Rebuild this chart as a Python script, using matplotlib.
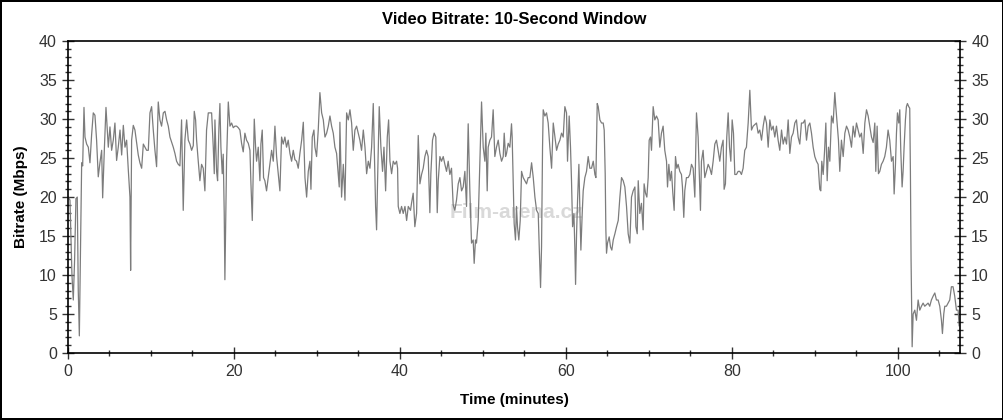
import matplotlib
matplotlib.use("Agg")
import matplotlib.pyplot as plt
from matplotlib.ticker import MultipleLocator

plt.rcParams['font.family'] = ['Liberation Sans', 'DejaVu Sans']

# bitrate (Mbps), per stretch of the film (minutes)
t_a = [0.05, 0.24, 0.48, 0.64, 0.80, 0.96, 1.12, 1.24, 1.37, 1.53, 1.65, 1.77, 1.93, 2.05, 2.25,
       2.45, 2.65, 2.85, 3.05, 3.25, 3.45, 3.65, 3.85, 4.06, 4.18, 4.38, 4.58, 4.86, 5.06, 5.26,
       5.46, 5.66, 5.86, 6.06, 6.27, 6.47, 6.67, 6.87, 7.07, 7.27, 7.47, 7.55, 7.67, 7.87, 8.07,
       8.27, 8.47, 8.67, 8.88, 9.08, 9.28, 9.48, 9.68, 9.88, 10.08, 10.28, 10.48, 10.68, 10.88, 11.08,
       11.28, 11.49, 11.69, 11.89, 12.09, 12.29, 12.69, 12.89, 13.09, 13.29]
v_a = [20, 19.6, 10, 6.8, 12, 19.8, 20, 8, 2.2, 15, 24.4, 24, 31.5, 27.7, 26.8,
       26.4, 24.4, 28, 30.8, 30.5, 27.3, 22.6, 24.4, 26, 19.9, 26, 31.5, 26.4, 29, 26,
       27.3, 29.5, 24.7, 26.4, 28.6, 25.4, 29.2, 26.4, 27.3, 23.5, 20, 10.6, 27.3, 29.2, 28.6,
       27, 25.4, 24.4, 23.7, 26.8, 26.4, 26, 26, 30.8, 31.6, 28.6, 26, 23.9, 32.2, 29.9,
       29.1, 30.8, 31, 29.9, 29.1, 27.7, 26.4, 25.6, 24.6, 24.2]

t_b = [13.49, 13.69, 13.89, 14.09, 14.30, 14.50, 14.70, 14.90, 15.10, 15.22, 15.38, 15.50, 15.70, 15.90, 16.10,
       16.30, 16.50, 16.70, 16.91, 17.11, 17.31, 17.51, 17.63, 17.71, 17.91, 18.03, 18.19, 18.31, 18.43, 18.59,
       18.71, 18.83, 18.91, 19.11, 19.32, 19.52, 19.72, 19.92, 20.12, 20.32, 20.52, 20.72, 20.92, 21.12, 21.32,
       21.52, 21.73, 21.93, 22.05, 22.21, 22.45, 22.61, 22.73, 22.93, 23.13, 23.25, 23.41, 23.57, 23.73, 23.93,
       24.13, 24.34, 24.54, 24.74, 24.94, 25.14, 25.34, 25.54, 25.74, 25.94, 26.14, 26.34, 26.54, 26.75, 26.95,
       27.15]
v_b = [24, 29.9, 18.3, 27.3, 29.9, 27.3, 26.8, 26, 26.6, 31, 29.9, 27.3, 24.6, 22.1, 24.2,
       23.7, 20.8, 28.6, 30.8, 30.8, 30.8, 26.4, 23, 29.9, 23.3, 22.1, 28.9, 32, 26.4, 23,
       25.5, 17.9, 9.4, 24.6, 32.2, 29.1, 29.5, 28.9, 29.1, 29.1, 28.9, 28.6, 26.9, 25.8, 28.2,
       27.3, 26.9, 26, 21.7, 17, 30, 26.4, 24.6, 26.4, 22.1, 26.8, 28.6, 22.5, 22.1, 20.8,
       22.5, 24.2, 26, 24.6, 29.1, 25.2, 23, 20.8, 27.7, 26.8, 27.7, 26.4, 27.3, 25.6, 24.6,
       26]

t_c = [27.35, 27.55, 27.75, 27.95, 28.16, 28.36, 28.56, 28.76, 28.96, 29.16, 29.28, 29.44, 29.64, 29.76, 29.96,
       30.16, 30.36, 30.57, 30.77, 30.97, 31.17, 31.37, 31.57, 31.77, 31.97, 32.17, 32.37, 32.57, 32.69, 32.77,
       32.97, 33.18, 33.38, 33.58, 33.78, 33.98, 34.18, 34.38, 34.58, 34.78, 34.98, 35.18, 35.38, 35.59, 35.79,
       35.99, 36.19, 36.39, 36.59, 36.79, 36.91, 37.07, 37.19, 37.31, 37.51, 37.71, 37.91, 38.08, 38.28, 38.48,
       38.64, 38.80, 39.00, 39.20, 39.40, 39.60, 39.72, 39.80, 40.00, 40.20, 40.40, 40.61, 40.81, 41.01]
v_c = [24.8, 24.6, 23.7, 25.6, 27.3, 29.6, 22.5, 20, 23.3, 24.6, 21, 27.7, 28.6, 26.4, 25.2,
       28.6, 33.4, 30.8, 29.9, 27.7, 28.2, 29.1, 30.4, 29.1, 28.2, 26.4, 25.6, 23, 21.3, 29.6,
       20, 24.2, 19.6, 30.8, 29.9, 31.2, 29.5, 26, 28.6, 29.1, 28.2, 27.3, 26, 28.6, 26.4,
       23, 24.6, 23.7, 26.4, 32, 26.4, 18.8, 15.8, 22.1, 31.6, 26.4, 23.3, 26.4, 20.8, 27.7,
       29.9, 24.6, 23, 24.6, 24.2, 24.6, 23.7, 18.8, 17.9, 18.8, 17.9, 18.8, 17, 18.8]

t_d = [41.28, 41.40, 41.60, 41.80, 42.01, 42.21, 42.41, 42.61, 42.81, 43.01, 43.21, 43.41, 43.61, 43.73, 43.93,
       44.13, 44.33, 44.50, 44.62, 44.82, 45.02, 45.22, 45.42, 45.62, 45.82, 46.02, 46.22, 46.42, 46.62, 46.82,
       47.03, 47.23, 47.43, 47.63, 47.83, 48.03, 48.23, 48.43, 48.63, 48.83, 48.95, 49.11, 49.23, 49.44, 49.64,
       49.84, 50.04, 50.24, 50.36, 50.52, 50.64, 50.84, 51.04, 51.24, 51.44, 51.64, 51.85, 52.05, 52.25, 52.45,
       52.57, 52.73, 52.85, 53.05, 53.25, 53.45, 53.53, 53.65, 53.77, 53.93, 54.05, 54.17, 54.33, 54.50, 54.66,
       54.86]
v_d = [18.3, 19.2, 20.5, 16.2, 17.9, 27.9, 21.7, 22.9, 23.7, 25.2, 26, 25.2, 18, 23, 27.3,
       28.2, 27.7, 18, 22.1, 25.2, 24.6, 25.2, 24.2, 23.3, 24.6, 22.9, 23.7, 19, 18.3, 19.6,
       21.7, 22.5, 20.8, 21.3, 23.3, 18.8, 29.4, 20.8, 14.1, 14.5, 11.5, 14.5, 14.1, 17, 24.6,
       32.2, 26.4, 24.6, 28.2, 20.8, 26.4, 27.3, 27.7, 31.2, 25.2, 26.4, 27.3, 25.6, 24.6, 25.2,
       28.2, 25.2, 25.6, 26.9, 26.4, 29.4, 27.7, 22.1, 16.6, 14.5, 18.8, 16.2, 14.5, 17, 23.3,
       22.5]

t_e = [55.06, 55.26, 55.46, 55.66, 55.87, 56.07, 56.27, 56.47, 56.67, 56.79, 56.95, 57.07, 57.19, 57.27, 57.47,
       57.67, 57.87, 58.07, 58.28, 58.48, 58.68, 58.88, 59.08, 59.28, 59.48, 59.68, 59.88, 60.08, 60.20, 60.40,
       60.56, 60.68, 60.81, 60.97, 61.09, 61.17, 61.29, 61.41, 61.57, 61.69, 61.81, 61.97, 62.09, 62.29, 62.49,
       62.69, 62.89, 63.09, 63.30, 63.50, 63.62, 63.78, 63.90, 64.10, 64.30, 64.50, 64.62, 64.74, 64.82, 64.90,
       65.02, 65.22, 65.38, 65.54, 65.71, 65.91, 66.11, 66.31, 66.51, 66.71, 66.91, 67.11, 67.31, 67.51, 67.71,
       67.91, 68.11, 68.32, 68.44, 68.60, 68.72]
v_e = [22.1, 21.7, 22.5, 22.5, 24.4, 22.5, 20, 18.3, 17.9, 13.6, 8.4, 13.6, 26.4, 31.2, 30.4,
       30.8, 29.5, 26.4, 23.7, 29.5, 27.7, 26, 26.8, 27.3, 28.2, 27.7, 31.6, 30.8, 24.6, 30.4,
       26.4, 22.1, 16.2, 17.9, 13.2, 8.8, 15.3, 19.6, 24.2, 18.3, 13.2, 17.9, 20.8, 22.5, 23.3,
       25.2, 23.7, 23.7, 24.6, 22.9, 22.5, 32, 31.6, 29.9, 29.5, 29.5, 28.6, 23, 15.8, 12.8,
       14.1, 14.9, 13.6, 13.2, 14.5, 15.3, 16.2, 17, 20, 22.5, 22.1, 21.3, 18.8, 15.3, 14.1,
       20, 20.8, 21.3, 16.2, 15.3, 22.1]

t_f = [68.91, 69.11, 69.31, 69.43, 69.60, 69.76, 69.92, 70.04, 70.20, 70.32, 70.52, 70.72, 70.92, 71.12, 71.32,
       71.52, 71.72, 71.92, 72.13, 72.25, 72.41, 72.57, 72.73, 72.89, 73.05, 73.21, 73.37, 73.53, 73.73, 73.93,
       74.05, 74.21, 74.33, 74.53, 74.74, 74.94, 75.14, 75.34, 75.54, 75.74, 75.94, 76.06, 76.22, 76.34, 76.54,
       76.74, 76.94, 77.15, 77.35, 77.55, 77.75, 77.95, 78.15, 78.35, 78.55, 78.75, 78.95, 79.07, 79.23, 79.39,
       79.56, 79.72, 79.88, 80.04, 80.20, 80.36, 80.56, 80.76, 80.96, 81.16, 81.36, 81.56, 81.76, 81.97, 82.17,
       82.37, 82.57]
v_f = [17.9, 19.2, 15.8, 21.7, 20.5, 20, 22.5, 27.3, 27.7, 26, 31.6, 29.9, 30.4, 29.9, 26.4,
       28.2, 29.1, 26, 24.6, 21.3, 24.2, 22.1, 23.3, 20.5, 18.3, 25.2, 23.7, 24.2, 23.3, 22.9,
       21.3, 17.4, 20.8, 22.5, 22.5, 22.9, 24.2, 23.7, 20, 30.8, 27.7, 23.7, 18.3, 24.6, 26,
       22.5, 23.3, 24.2, 23.7, 22.9, 24.6, 26.8, 27.3, 26, 24.6, 26.4, 27.3, 21, 21.7, 27.7,
       30.8, 26.4, 24.6, 29.9, 28.2, 22.9, 22.9, 23.3, 23.3, 22.9, 23.7, 26, 26.4, 29.5, 33.7,
       28.6, 29.1]

t_g = [82.97, 83.17, 83.37, 83.58, 83.78, 83.98, 84.18, 84.38, 84.58, 84.78, 84.98, 85.18, 85.38, 85.58, 85.78,
       85.99, 86.19, 86.39, 86.59, 86.79, 86.99, 87.19, 87.39, 87.59, 87.79, 87.99, 88.19, 88.39, 88.60, 88.80,
       89.00, 89.20, 89.40, 89.60, 89.80, 90.00, 90.20, 90.40, 90.60, 90.72, 90.84, 91.01, 91.17, 91.33, 91.49,
       91.65, 91.81, 92.01, 92.21, 92.41, 92.53, 92.69, 92.85, 93.01, 93.21, 93.42, 93.62, 93.82, 94.02, 94.22,
       94.42, 94.62, 94.82, 95.02, 95.22, 95.42, 95.62, 95.83, 96.03, 96.23, 96.43]
v_g = [29.5, 28.2, 28.6, 27.3, 29.1, 30.4, 29.5, 26.4, 29.9, 28.6, 29.1, 27.7, 29.1, 27.3, 26,
       28.6, 26.8, 27.7, 26.8, 29.9, 25.6, 27.7, 28.2, 29.5, 29.9, 27.7, 26.8, 29.5, 29.5, 29.9,
       27.3, 29.1, 29.5, 28.2, 26.4, 25.2, 24.6, 24.2, 21, 20.8, 24.6, 22.9, 25.8, 29.5, 22.1,
       26.4, 24.6, 30.4, 29.5, 33.4, 31.6, 29.5, 27.3, 23.3, 27.3, 25.2, 28.2, 29.1, 28.6, 27.7,
       26.4, 29.1, 27.7, 29.5, 28.6, 27.7, 28.2, 25.6, 29.5, 31.2, 30.4]

t_h = [96.62, 96.83, 97.03, 97.23, 97.35, 97.51, 97.67, 97.83, 98.03, 98.23, 98.43, 98.63, 98.83, 99.03, 99.24,
       99.44, 99.56, 99.72, 99.84, 99.96, 100.12, 100.24, 100.36, 100.52, 100.64, 100.76, 100.92, 101.04, 101.16, 101.32,
       101.44, 101.52, 101.60, 101.73, 101.85, 102.05, 102.25, 102.45, 102.65, 102.85, 103.05, 103.25, 103.45, 103.65, 103.85,
       104.05, 104.26, 104.46, 104.66, 104.86, 105.06, 105.26, 105.38, 105.54, 105.66, 105.86, 106.06, 106.26, 106.46, 106.66,
       106.86, 107.07, 107.27, 107.39]
v_h = [29.1, 27.7, 27, 29.5, 23.3, 29.1, 23, 23.3, 24.2, 24.6, 25.2, 26.4, 28.6, 27.3, 24.6,
       25.2, 20.4, 24.2, 28.2, 30.8, 29.5, 31.2, 26, 21.3, 23.3, 26.4, 29.9, 31.6, 32, 31.6,
       31.4, 23.3, 12, 0.8, 5, 5.5, 4.2, 6.8, 5.5, 6, 6.4, 6, 6.2, 6.4, 6,
       6.8, 7.3, 7.7, 6.8, 6.8, 6, 4.2, 2.5, 5, 6, 6, 6.4, 6.8, 8.5, 8.5,
       7.3, 5.5, 5.5, 3.5]

minutes = []
mbps = []
for tt, vv in [(t_a, v_a), (t_b, v_b), (t_c, v_c), (t_d, v_d),
               (t_e, v_e), (t_f, v_f), (t_g, v_g), (t_h, v_h)]:
    assert len(tt) == len(vv), (len(tt), len(vv))
    minutes += tt
    mbps += vv

fig = plt.figure(figsize=(10.04, 4.2), dpi=100, facecolor='white',
                 edgecolor='black', linewidth=1.5)
ax = fig.add_axes([0.0677, 0.1595, 0.8885, 0.7425])

# faint watermark behind the trace
ax.text(54, 18, 'Film-arena.cz', color='#d9d9d9', fontsize=15, fontweight='bold',
        ha='center', va='center', zorder=0)

ax.plot(minutes, mbps, color='#7c7c7c', linewidth=0.9, zorder=2)

ax.set_xlim(0, 107.5)
ax.set_ylim(0, 40)
ax.xaxis.set_major_locator(MultipleLocator(20))
ax.xaxis.set_minor_locator(MultipleLocator(5))
ax.yaxis.set_major_locator(MultipleLocator(5))
ax.yaxis.set_minor_locator(MultipleLocator(1))
ax.tick_params(which='both', direction='inout', right=True, labelright=True,
               labelsize=11.5, colors='#333333', pad=4)
ax.tick_params(which='major', length=8, width=1)
ax.tick_params(which='minor', length=5, width=1)
for s in ax.spines.values():
    s.set_linewidth(1.2)

ax.set_title('Video Bitrate: 10-Second Window', fontsize=12, fontweight='bold', pad=12)
ax.set_xlabel('Time (minutes)', fontsize=11, fontweight='bold', labelpad=10)
ax.set_ylabel('Bitrate (Mbps)', fontsize=11, fontweight='bold', labelpad=8)

fig.savefig('out.png', dpi=100)
